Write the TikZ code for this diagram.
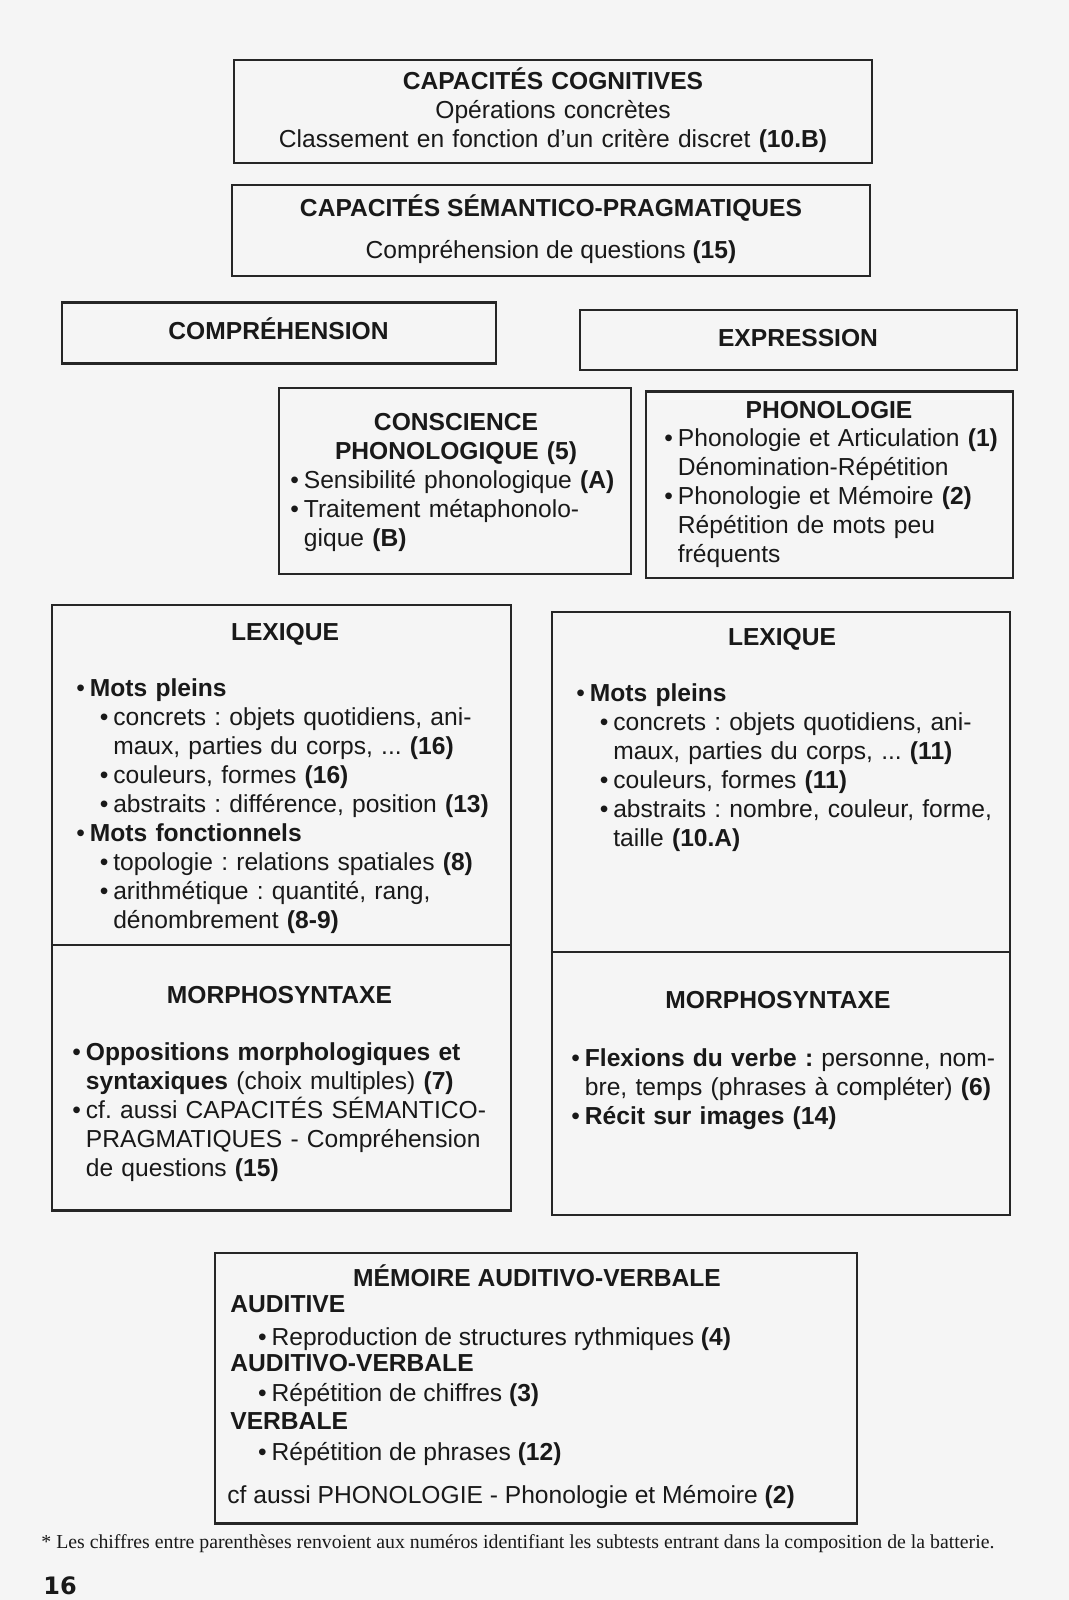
\documentclass[tikz,border=0pt]{standalone}
\usepackage{fontspec}
\setmainfont{Liberation Sans}
\newfontfamily\notefont{Liberation Serif}
\newfontfamily\pagefont{DejaVu Sans}
\usetikzlibrary{positioning}

\newcommand{\bodysize}{\fontsize{12.3}{14.5}\selectfont}
\newcommand{\bul}{\makebox[0.55em][l]{•}}
\newcommand{\cont}{\hspace*{0.55em}}
\newcommand{\sub}{\hspace*{0.95em}}
\frenchspacing

\begin{document}
\begin{tikzpicture}[x=0.5pt,y=-0.5pt,font=\bodysize,
  every node/.style={text=black!90},
  panel/.style={draw=black!85,line width=1.1pt,inner sep=0pt},
  boxtitle/.style={anchor=base,inner sep=0pt,font=\bodysize\bfseries},
  txtline/.style={anchor=base,inner sep=0pt},
  itemlist/.style={anchor=base west,inner sep=0pt,align=left,text width=270pt},
  ctrblock/.style={anchor=base,inner sep=0pt,align=center,text width=#1}]

	% page
	\useasboundingbox (0,0) rectangle (1069,1600);
	\fill[black!4] (0,0) rectangle (1069,1600);

	% boxes
	\node[panel,minimum width=319pt,minimum height=51.5pt] (cogn) at (553,111.5) {};
	\node[panel,minimum width=319pt,minimum height=45.5pt] (sem) at (551,230.5) {};
	\node[panel,minimum width=217pt,minimum height=30.5pt] (compr) at (279,333) {};
	\node[panel,minimum width=218.5pt,minimum height=30.25pt] (expr) at (798.5,340) {};
	\node[panel,minimum width=176pt,minimum height=93pt] (consc) at (455,481) {};
	\node[panel,minimum width=183.5pt,minimum height=93.25pt] (phono) at (829.5,484.75) {};
	\node[panel,minimum width=229.5pt,minimum height=302.75pt] (lexL) at (281.5,907.75) {};
	\node[panel,minimum width=229pt,minimum height=301.65pt] (lexR) at (781,913.35) {};
	\node[panel,minimum width=321pt,minimum height=135.25pt] (mem) at (536,1388.25) {};

	\coordinate (lexLdiv) at (0,945);
	\coordinate (lexRdiv) at (0,951.7);
	\draw[panel] (lexL.west |- lexLdiv) -- (lexL.east |- lexLdiv);
	\draw[panel] (lexR.west |- lexRdiv) -- (lexR.east |- lexRdiv);

	% top
	\node[ctrblock=310pt] (cognT) at (553,90) {\textbf{CAPACITÉS COGNITIVES}\\
		Opérations concrètes\\
		Classement en fonction d'un critère discret \textbf{(10.B)}};
	\node[boxtitle] (semT) at (551,216.7) {CAPACITÉS SÉMANTICO-PRAGMATIQUES};
	\node[txtline] (semL) at (551,258.3) {Compréhension de questions \textbf{(15)}};
	\node[boxtitle] (comprT) at (278.5,339.3) {COMPRÉHENSION};
	\node[boxtitle] (exprT) at (798,346.7) {EXPRESSION};

	% phonologie
	\node[ctrblock=170pt,font=\bodysize\bfseries] (conscT) at (456,430) {CONSCIENCE\\PHONOLOGIQUE (5)};
	\node[itemlist] (conscL) at (290,488.3) {\bul Sensibilité phonologique \textbf{(A)}\\
		\bul Traitement métaphonolo-\\
		\cont gique \textbf{(B)}};
	\node[boxtitle] (phonoT) at (829,418.3) {PHONOLOGIE};
	\node[itemlist] (phonoL) at (664,446.7) {\bul Phonologie et Articulation \textbf{(1)}\\
		\cont Dénomination-Répétition\\
		\bul Phonologie et Mémoire \textbf{(2)}\\
		\cont Répétition de mots peu\\
		\cont fréquents};

	% lexique
	\node[boxtitle] (lexLT) at (285,640) {LEXIQUE};
	\node[itemlist] (lexLL) at (76,696.7) {\bul\textbf{Mots pleins}\\
		\sub\bul concrets : objets quotidiens, ani-\\
		\sub\cont maux, parties du corps, ... \textbf{(16)}\\
		\sub\bul couleurs, formes \textbf{(16)}\\
		\sub\bul abstraits : différence, position \textbf{(13)}\\
		\bul\textbf{Mots fonctionnels}\\
		\sub\bul topologie : relations spatiales \textbf{(8)}\\
		\sub\bul arithmétique : quantité, rang,\\
		\sub\cont dénombrement \textbf{(8-9)}};
	\node[boxtitle] (lexRT) at (782,645) {LEXIQUE};
	\node[itemlist] (lexRL) at (576,701.7) {\bul\textbf{Mots pleins}\\
		\sub\bul concrets : objets quotidiens, ani-\\
		\sub\cont maux, parties du corps, ... \textbf{(11)}\\
		\sub\bul couleurs, formes \textbf{(11)}\\
		\sub\bul abstraits : nombre, couleur, forme,\\
		\sub\cont taille \textbf{(10.A)}};

	% morphosyntaxe
	\node[boxtitle] (morLT) at (279.5,1003.3) {MORPHOSYNTAXE};
	\node[itemlist] (morLL) at (72,1060.7) {\bul\textbf{Oppositions morphologiques et}\\
		\cont\textbf{syntaxiques} (choix multiples) \textbf{(7)}\\
		\bul cf. aussi CAPACITÉS SÉMANTICO-\\
		\cont PRAGMATIQUES - Compréhension\\
		\cont de questions \textbf{(15)}};
	\node[boxtitle] (morRT) at (778,1008.3) {MORPHOSYNTAXE};
	\node[itemlist] (morRL) at (571,1066.7) {\bul\textbf{Flexions du verbe :} personne, nom-\\
		\cont bre, temps (phrases à compléter) \textbf{(6)}\\
		\bul\textbf{Récit sur images (14)}};

	% memoire
	\node[boxtitle] (memT) at (537,1286.7) {MÉMOIRE AUDITIVO-VERBALE};
	\node[boxtitle,anchor=base west] (memA) at (230,1312.7) {AUDITIVE};
	\node[txtline,anchor=base west] (memA1) at (257.7,1345) {\bul Reproduction de structures rythmiques \textbf{(4)}};
	\node[boxtitle,anchor=base west] (memAV) at (230,1371.7) {AUDITIVO-VERBALE};
	\node[txtline,anchor=base west] (memAV1) at (257.7,1401.7) {\bul Répétition de chiffres \textbf{(3)}};
	\node[boxtitle,anchor=base west] (memV) at (230,1429.3) {VERBALE};
	\node[txtline,anchor=base west] (memV1) at (257.7,1460) {\bul Répétition de phrases \textbf{(12)}};
	\node[txtline,anchor=base west] (memcf) at (227,1503.3) {cf aussi PHONOLOGIE - Phonologie et Mémoire \textbf{(2)}};

	% footer
	\node[txtline,anchor=base west,font=\notefont\fontsize{9.9}{11}\selectfont] (note) at (41,1548.3)
		{* Les chiffres entre parenthèses renvoient aux numéros identifiant les subtests entrant dans la composition de la batterie.};
	\node[txtline,anchor=base west,font=\pagefont\bfseries\fontsize{12}{14}\selectfont] (pagenum) at (43,1594) {16};
\end{tikzpicture}
\end{document}
